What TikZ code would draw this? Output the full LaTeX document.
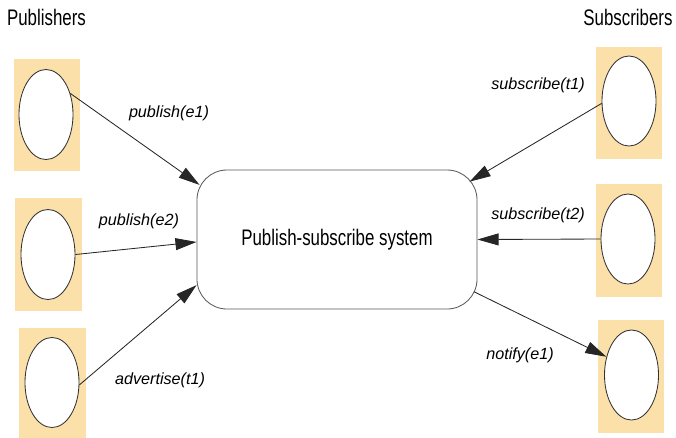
\documentclass[tikz,border=0pt]{standalone}
\usepackage{fontspec}
\setmainfont{Liberation Sans}
\newfontfamily\narrowfont[FakeStretch=0.75]{Liberation Sans}
\usetikzlibrary{positioning, shapes.geometric, arrows.meta}
\definecolor{padtan}{RGB}{251,224,170}

\begin{document}
\begin{tikzpicture}[x=0.025cm, y=-0.025cm,
        pad/.style={fill=padtan, minimum width=1.65cm, minimum height=2.8cm, inner sep=0pt},
        client/.style={draw=black!80, fill=white, ellipse, line width=0.6pt, inner sep=0pt,
                       minimum width=1.35cm, minimum height=2.25cm},
        sysbox/.style={draw=black!65, line width=0.6pt, rounded corners=0.75cm,
                       minimum width=7cm, minimum height=3.475cm,
                       font=\narrowfont\fontsize{16}{19}\selectfont},
        msg/.style={font=\itshape\fontsize{11.5}{14}\selectfont},
        ttl/.style={font=\narrowfont\fontsize{16}{19}\selectfont},
        flow/.style={draw=black!85, line width=0.6pt, -{Triangle[length=15pt, width=8.5pt]}},
    ]
    \useasboundingbox (0,0) rectangle (676,437);

    % Titles
    \node[ttl] (pubttl) at (46.5,17) {Publishers};
    \node[ttl] (subttl) at (628,17) {Subscribers};

    % Publishers column
    \node[pad] (pad1) at (47,115) {};
    \node[pad] (pad2) at (48.5,254.5) {};
    \node[pad] (pad3) at (52.5,384) {};
    \node[client] (pub1) at (46,114.5) {};
    \node[client] (pub2) at (48,254.5) {};
    \node[client] (pub3) at (52,382.5) {};

    % Subscribers column
    \node[pad] (pad4) at (629,103) {};
    \node[pad] (pad5) at (628.5,240.5) {};
    \node[pad] (pad6) at (630.5,376.5) {};
    \node[client] (sub1) at (629,101) {};
    \node[client] (sub2) at (628,239) {};
    \node[client] (sub3) at (631.5,375) {};

    % Event service
    \node[sysbox] (sys) at (337,239.5) {Publish-subscribe system};

    % Messages
    \draw[flow, shorten >=-2.6pt] (pub1.41) -- (sys.158.6);
    \draw[flow] (pub2.east) -- (sys.181);
    \draw[flow] (pub3.-5) -- (sys.198);
    \draw[flow, shorten >=-6.5pt] (sub1.185) -- (sys.24.6);
    \draw[flow] (sub2.west) -- (sys.east);
    \draw[flow, shorten <=-2.8pt] (sys.-21) -- (sub3.144.5);

    % Labels
    \node[msg] (lpub1) at (169,113) {publish(e1)};
    \node[msg] (lpub2) at (139,221) {publish(e2)};
    \node[msg] (ladv) at (160,380) {advertise(t1)};
    \node[msg] (lsub1) at (538,85) {subscribe(t1)};
    \node[msg] (lsub2) at (538,215) {subscribe(t2)};
    \node[msg] (lnot) at (520,355) {notify(e1)};
\end{tikzpicture}
\end{document}
